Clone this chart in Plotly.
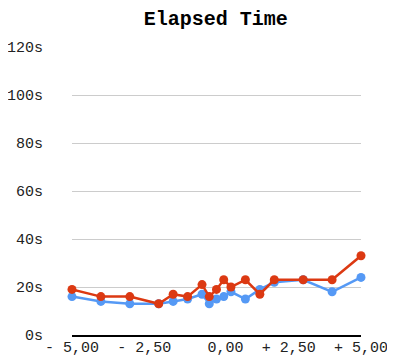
import plotly.graph_objects as go

# offsets (x) and elapsed seconds for the two runs
offsets = [-5, -4, -3, -2, -1.5, -1, -0.5, -0.25, 0, 0.25, 0.5, 1, 1.5, 2, 3, 4, 5]
time_blue = [16, 14, 13, 13, 14, 15, 17, 13, 15, 16, 18, 15, 19, 22, 23, 18, 24]
time_red = [19, 16, 16, 13, 17, 16, 21, 16, 19, 23, 20, 23, 17, 23, 23, 23, 33]

x_ticks = [-5, -2.5, 0, 2.5, 5]
x_labels = ["-\u00a05,00", "-\u00a02,50", "\u00a0\u00a00,00", "+\u00a02,50", "+\u00a05,00"]
y_ticks = [0, 20, 40, 60, 80, 100, 120]
y_labels = ["0s", "20s", "40s", "60s", "80s", "100s", "120s"]

fig = go.Figure()
for vals, col in [(time_blue, "#5599f5"), (time_red, "#dc3912")]:
    fig.add_trace(go.Scatter(x=offsets, y=vals, mode="lines+markers",
                             line=dict(color=col, width=2.5),
                             marker=dict(color=col, size=9),
                             showlegend=False, cliponaxis=False))

# page body keeps its default 8px margin, so the figure is a bit smaller
fig.update_layout(
    width=387, height=355,
    margin=dict(l=64, r=34, t=39, b=28),
    paper_bgcolor="white", plot_bgcolor="white",
    title=dict(text="<b>Elapsed Time</b>", x=0.537, xanchor="center",
               y=0.972, yanchor="middle",
               font=dict(family="Liberation Mono", size=20, color="#000")),
    font=dict(family="Liberation Mono", size=15, color="#222"),
)
fig.update_xaxes(range=[-5, 5], tickvals=x_ticks, ticktext=x_labels,
                 showgrid=False, zeroline=False, showline=True,
                 linecolor="black", linewidth=2, automargin=False,
                 ticklabelstandoff=-3)
fig.update_yaxes(range=[0, 120], tickvals=y_ticks, ticktext=y_labels,
                 showgrid=True, gridcolor="#cccccc", gridwidth=1,
                 zeroline=False, showline=False, automargin=False,
                 ticklabelstandoff=28)

fig.write_html("out.html")
